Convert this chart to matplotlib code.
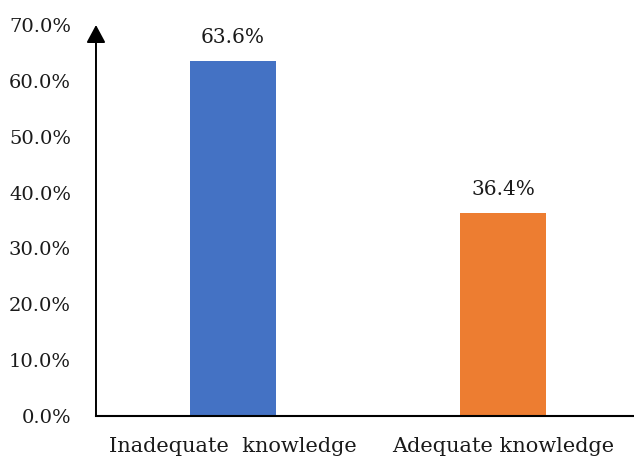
import matplotlib
matplotlib.use("Agg")
import matplotlib.pyplot as plt
from matplotlib.ticker import FuncFormatter

# Knowledge level shares (percent)
categories = ["Inadequate  knowledge", "Adequate knowledge"]
shares = [63.6, 36.4]
bar_colors = ["#4472C4", "#ED7D31"]
y_ticks = [0, 10, 20, 30, 40, 50, 60, 70]

plt.rcParams["font.family"] = ["DejaVu Serif"]

fig = plt.figure(figsize=(6.34, 4.59), dpi=100)
ax = fig.add_axes([0.1514, 0.0937, 0.8486, 0.8519])

positions = list(range(len(categories)))
ax.bar(positions, shares, width=0.319, color=bar_colors)

for x, v in zip(positions, shares):
    ax.annotate(f"{v:.1f}%", (x, v), xytext=(0, 13), textcoords="offset points",
                ha="center", va="baseline", fontsize=14.5, color="#1a1a1a")

ax.set_xlim(-0.507, 1.485)
ax.set_ylim(0, 70)
ax.set_xticks(positions)
ax.set_xticklabels(categories)
ax.set_yticks(y_ticks)
ax.yaxis.set_major_formatter(FuncFormatter(lambda v, _: f"{v:.1f}%"))
ax.tick_params(axis="both", length=0, labelcolor="#1a1a1a")
ax.tick_params(axis="y", pad=18, labelsize=14)
ax.tick_params(axis="x", pad=15, labelsize=15)

for side in ["top", "right", "left"]:
    ax.spines[side].set_visible(False)
ax.spines["bottom"].set_linewidth(1.5)
ax.spines["bottom"].set_color("black")

# vertical axis drawn as an arrow
ax.annotate("", xy=(0, 1), xytext=(0, 0), xycoords="axes fraction",
            textcoords="axes fraction",
            arrowprops=dict(arrowstyle="-|>,head_length=1.08,head_width=0.58",
                            mutation_scale=10, color="black", lw=1.4,
                            shrinkA=0, shrinkB=0),
            annotation_clip=False)

fig.savefig("out.png", dpi=100)
